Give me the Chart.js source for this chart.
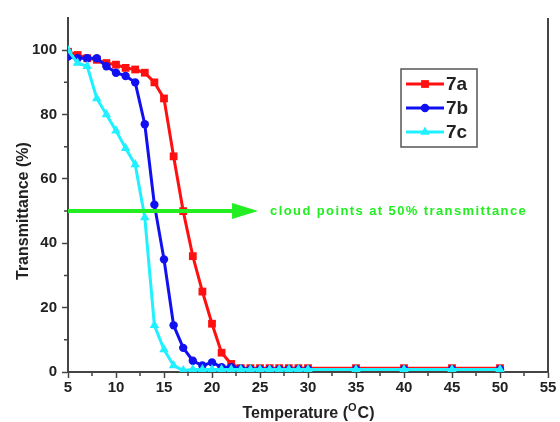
<!DOCTYPE html>
<html>
<head>
<meta charset="utf-8">
<script src="https://cdn.jsdelivr.net/npm/chart.js@4.4.1/dist/chart.umd.min.js"></script>
<style>
  html, body { margin: 0; padding: 0; background: #fff; }
  #wrap { width: 560px; height: 422px; position: relative; }
</style>
</head>
<body>
<div id="wrap"><canvas id="grafica" width="560" height="422"></canvas></div>
<script>
// Temperaturas medidas (°C)
const temps = [5, 6, 7, 8, 9, 10, 11, 12, 13, 14, 15, 16, 17, 18, 19, 20, 21, 22, 23, 24, 25, 26, 27, 28, 29, 30, 35, 40, 45, 50];

// Transmitancia (%) de cada muestra
const t7a = [99.5, 98.5, 97.5, 97, 96, 95.5, 94.5, 94, 93, 90, 85, 67, 50, 36, 25, 15, 6, 2.5, 1.2, 1.2, 1.2, 1.2, 1.2, 1.2, 1.2, 1.2, 1.2, 1.2, 1.2, 1.2];
const t7b = [98, 97.5, 97.5, 97.5, 95, 93, 92, 90, 77, 52, 35, 14.5, 7.5, 3.5, 2, 3, 1.5, 1.5, 1, 0.8, 0.8, 0.8, 0.8, 0.8, 0.8, 0.8, 0.8, 0.8, 0.8, 0.8];
const t7c = [100, 96, 95, 85, 80, 75, 69.5, 64.5, 48, 14.5, 7, 2, 0.5, 0.8, 0.8, 0.8, 0.8, 0.8, 0.8, 0.8, 0.8, 0.8, 0.8, 0.8, 0.8, 0.8, 0.8, 0.8, 0.8, 0.8];

const series = ['7a', '7b', '7c'];
const colores = ['#ff1010', '#1010f0', '#20f0ff'];
const marcadores = ['rect', 'circle', 'triangle'];
const radios = [5.5, 4.2, 5.5];

const xTicks = [5, 10, 15, 20, 25, 30, 35, 40, 45, 50, 55];
const yTicks = [0, 20, 40, 60, 80, 100];
const xMenores = [7.5, 12.5, 17.5, 22.5, 27.5, 32.5, 37.5, 42.5, 47.5, 52.5];
const yMenores = [10, 30, 50, 70, 90];

// Flecha del punto de enturbiamiento
const nivelNube = 50;
const flechaFin = 24.8;
const textoNube = 'cloud points at 50% transmittance';

const fuenteTick = { family: '"Liberation Sans", Arial, sans-serif', size: 15, weight: 'bold' };
const colorEje = '#444';

// el último de la lista queda encima (order más bajo se dibuja al final)
const datasets = [t7a, t7b, t7c].map((serie, i) => ({
  label: series[i],
  data: temps.map((t, j) => ({ x: t, y: serie[j] })),
  borderColor: colores[i],
  backgroundColor: colores[i],
  borderWidth: 3,
  pointStyle: marcadores[i],
  pointRadius: radios[i],
  pointBorderWidth: 0,
  showLine: true,
  tension: 0,
  order: 2 - i
}));

function marcador(ctx, tipo, x, y, r, color) {
  ctx.save();
  ctx.fillStyle = color;
  ctx.beginPath();
  if (tipo === 'rect') {
    const s = r * Math.SQRT1_2;
    ctx.rect(x - s, y - s, 2 * s, 2 * s);
  } else if (tipo === 'circle') {
    ctx.arc(x, y, r, 0, Math.PI * 2);
  } else {
    ctx.moveTo(x, y - r);
    ctx.lineTo(x + r * 0.866, y + r * 0.5);
    ctx.lineTo(x - r * 0.866, y + r * 0.5);
    ctx.closePath();
  }
  ctx.fill();
  ctx.restore();
}

// Marco derecho, ticks menores, títulos, flecha y leyenda
const extras = {
  id: 'extras',
  afterDraw(chart) {
    const ctx = chart.ctx;
    const xs = chart.scales.x, ys = chart.scales.y;
    const area = chart.chartArea;
    ctx.save();

    ctx.strokeStyle = colorEje;
    ctx.lineWidth = 2;
    ctx.beginPath();
    ctx.moveTo(area.right, area.top);
    ctx.lineTo(area.right, area.bottom + 1);
    ctx.stroke();

    ctx.lineWidth = 1.5;
    ctx.beginPath();
    xMenores.forEach(v => {
      const px = xs.getPixelForValue(v);
      ctx.moveTo(px, area.bottom);
      ctx.lineTo(px, area.bottom + 4);
    });
    yMenores.forEach(v => {
      const py = ys.getPixelForValue(v);
      ctx.moveTo(area.left, py);
      ctx.lineTo(area.left - 4, py);
    });
    ctx.stroke();

    // títulos de ejes
    ctx.fillStyle = '#222';
    ctx.textBaseline = 'alphabetic';
    const t1 = 'Temperature (', sup = 'O', t2 = 'C)';
    ctx.font = 'bold 16px "Liberation Sans", Arial, sans-serif';
    const w1 = ctx.measureText(t1).width, w3 = ctx.measureText(t2).width;
    ctx.font = 'bold 11px "Liberation Sans", Arial, sans-serif';
    const w2 = ctx.measureText(sup).width;
    let tx = (area.left + area.right) / 2 - (w1 + w2 + w3) / 2;
    const ty = 418;
    ctx.font = 'bold 16px "Liberation Sans", Arial, sans-serif';
    ctx.textAlign = 'left';
    ctx.fillText(t1, tx, ty);
    ctx.font = 'bold 11px "Liberation Sans", Arial, sans-serif';
    ctx.fillText(sup, tx + w1, ty - 7);
    ctx.font = 'bold 16px "Liberation Sans", Arial, sans-serif';
    ctx.fillText(t2, tx + w1 + w2 + 1, ty);

    ctx.save();
    ctx.translate(28, (ys.getPixelForValue(0) + ys.getPixelForValue(100)) / 2);
    ctx.rotate(-Math.PI / 2);
    ctx.textAlign = 'center';
    ctx.fillText('Transmittance (%)', 0, 0);
    ctx.restore();

    // flecha verde
    const yF = ys.getPixelForValue(nivelNube);
    const x0 = xs.getPixelForValue(5), x1 = xs.getPixelForValue(flechaFin);
    ctx.strokeStyle = '#22ee22';
    ctx.fillStyle = '#22ee22';
    ctx.lineWidth = 4;
    ctx.beginPath();
    ctx.moveTo(x0, yF);
    ctx.lineTo(x1 - 20, yF);
    ctx.stroke();
    ctx.beginPath();
    ctx.moveTo(x1, yF);
    ctx.lineTo(x1 - 26, yF - 8);
    ctx.lineTo(x1 - 26, yF + 8);
    ctx.closePath();
    ctx.fill();
    ctx.font = 'bold 13px "Liberation Sans", Arial, sans-serif';
    ctx.letterSpacing = '1.4px';
    ctx.textBaseline = 'middle';
    ctx.fillText(textoNube, x1 + 12, yF);
    ctx.letterSpacing = '0px';

    // leyenda
    const lx = 401, ly = 69, lw = 76, lh = 78;
    ctx.strokeStyle = '#555';
    ctx.lineWidth = 1.5;
    ctx.strokeRect(lx, ly, lw, lh);
    ctx.font = 'bold 19px "Liberation Sans", Arial, sans-serif';
    ctx.textBaseline = 'middle';
    series.forEach((s, i) => {
      const yy = ly + 15 + i * 24;
      ctx.strokeStyle = colores[i];
      ctx.lineWidth = 3;
      ctx.beginPath();
      ctx.moveTo(lx + 5, yy);
      ctx.lineTo(lx + 43, yy);
      ctx.stroke();
      marcador(ctx, marcadores[i], lx + 24, yy, radios[i], colores[i]);
      ctx.fillStyle = '#222';
      ctx.fillText(s, lx + 45, yy + 1);
    });
    ctx.restore();
  }
};

new Chart(document.getElementById('grafica'), {
  type: 'scatter',
  data: { datasets },
  options: {
    responsive: false,
    animation: false,
    layout: { padding: { top: 18, right: 12, left: 0, bottom: 0 } },
    plugins: { legend: { display: false }, tooltip: { enabled: false } },
    scales: {
      x: {
        type: 'linear', min: 5, max: 55,
        afterBuildTicks: s => { s.ticks = xTicks.map(v => ({ value: v })); },
        afterFit: s => { s.height = 50; },
        grid: { drawOnChartArea: false, tickLength: 6, tickColor: colorEje, tickWidth: 1.5 },
        border: { color: colorEje, width: 2 },
        ticks: { font: fuenteTick, color: '#222', padding: 1, maxRotation: 0 }
      },
      y: {
        type: 'linear', min: 0, max: 110,
        afterBuildTicks: s => { s.ticks = yTicks.map(v => ({ value: v })); },
        afterFit: s => { s.width = 68; },
        grid: { drawOnChartArea: false, tickLength: 6, tickColor: colorEje, tickWidth: 1.5 },
        border: { color: colorEje, width: 2 },
        ticks: { font: fuenteTick, color: '#222', padding: 5 }
      }
    }
  },
  plugins: [extras]
});
</script>
</body>
</html>
